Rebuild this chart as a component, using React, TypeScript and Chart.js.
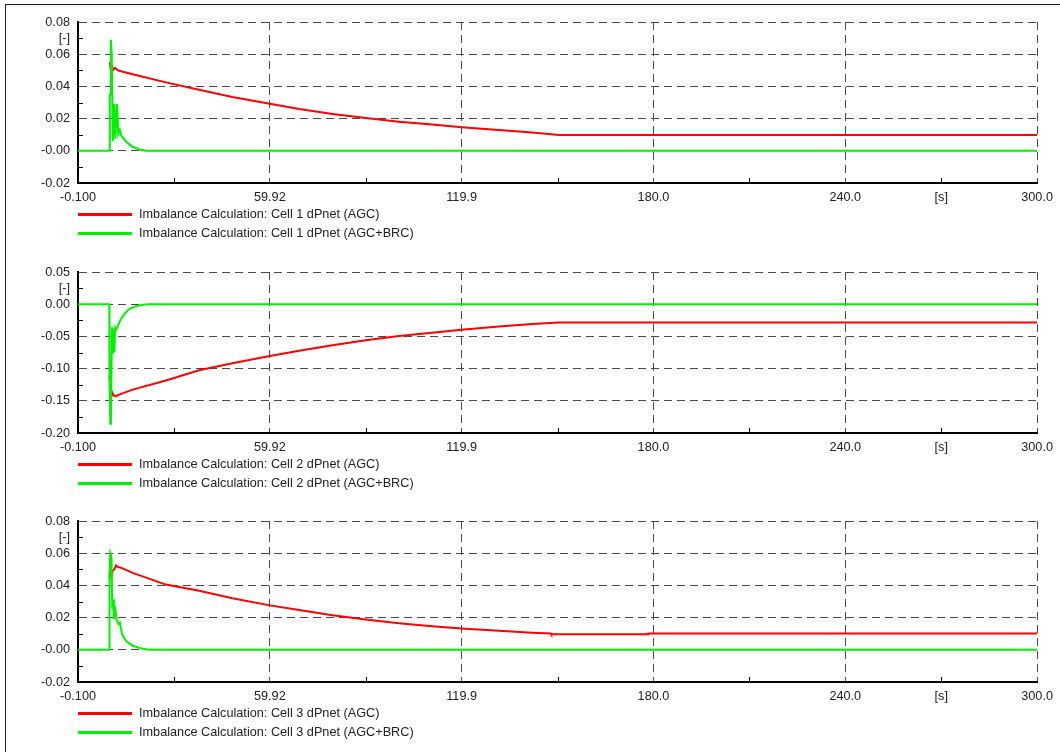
import React, { useEffect, useRef } from "react";
import { Chart, registerables } from "chart.js";
Chart.register(...registerables);

// ---------- axis ticks ----------
const xTicks = [-0.1, 29.91, 59.92, 89.93, 119.94, 149.95, 179.96, 209.97, 239.98, 269.99, 300];
const xLabels = ["-0.100", "", "59.92", "", "119.9", "", "180.0", "", "240.0", "[s]", "300.0"];
const tickMajor = [1, 0, 1, 0, 1, 0, 1, 0, 1, 0, 1];

const yTicks1 = [-0.02, -0.01, 0, 0.01, 0.02, 0.03, 0.04, 0.05, 0.06, 0.07, 0.08];
const yLabels1 = ["-0.02", "", "-0.00", "", "0.02", "", "0.04", "", "0.06", "[-]", "0.08"];
const yTicks2 = [-0.2, -0.175, -0.15, -0.125, -0.1, -0.075, -0.05, -0.025, 0, 0.025, 0.05];
const yLabels2 = ["-0.20", "", "-0.15", "", "-0.10", "", "-0.05", "", "0.00", "[-]", "0.05"];
const yTicks3 = [-0.02, -0.01, 0, 0.01, 0.02, 0.03, 0.04, 0.05, 0.06, 0.07, 0.08];
const yLabels3 = ["-0.02", "", "-0.00", "", "0.02", "", "0.04", "", "0.06", "[-]", "0.08"];

// ---------- Cell 1 (AGC series is hidden under the green one before the event) ----------
const tAgc1 = [9.85, 10.2, 10.35, 10.6, 11.0, 11.5, 12.0, 12.8, 17.0, 27.4, 37.8, 48.2, 59.9, 69.1, 79.5, 89.9, 100.3, 110.7, 119.9, 131.6, 142.0, 150.4, 300];
const agc1 = [0.055, 0.049, 0.045, 0.052, 0.0505, 0.0515, 0.0505, 0.0497, 0.0475, 0.0425, 0.0379, 0.0334, 0.0292, 0.0259, 0.0229, 0.0203, 0.0181, 0.0163, 0.0146, 0.0129, 0.0113, 0.0098, 0.0098];
const tBrc1 = [-0.1, 9.8, 9.85, 10.1, 10.2, 10.45, 10.8, 11.3, 11.6, 12.1, 12.5, 13.0, 13.4, 14.9, 17.0, 19.1, 21.2, 300];
const brc1 = [0, 0, 0.035, 0.035, 0.069, 0.06, 0.006, 0.029, 0.0073, 0.029, 0.0104, 0.013, 0.0094, 0.0058, 0.0025, 0.0008, 0, 0];

// ---------- Cell 2 ----------
const tAgc2 = [9.75, 10.3, 10.6, 11.0, 11.6, 12.8, 17.0, 27.4, 37.8, 48.2, 59.9, 69.1, 79.5, 89.9, 100.3, 110.7, 119.9, 131.6, 142.0, 150.4, 300];
const agc2 = [-0.111, -0.144, -0.137, -0.141, -0.143, -0.1403, -0.1327, -0.1184, -0.1025, -0.0918, -0.0806, -0.0724, -0.0638, -0.0561, -0.0495, -0.0444, -0.0398, -0.0347, -0.0306, -0.0283, -0.0283];
const tBrc2 = [-0.1, 9.7, 9.75, 10.0, 10.2, 10.52, 10.83, 11.04, 11.25, 11.56, 11.98, 12.6, 13.33, 14.37, 15.9, 18.0, 20.1, 22.2, 300];
const brc2 = [0, 0, -0.111, -0.1856, -0.18, -0.036, -0.077, -0.0387, -0.0747, -0.036, -0.0387, -0.031, -0.0232, -0.0155, -0.0077, -0.0031, -0.001, 0, 0];

// ---------- Cell 3 ----------
const tAgc3 = [9.75, 10.1, 10.4, 10.7, 11.25, 11.8, 12.3, 13.3, 17.0, 27.4, 37.8, 48.2, 59.9, 69.1, 79.5, 89.9, 100.3, 110.7, 119.9, 131.6, 142.0, 147.9, 148.0, 178.3, 178.4, 300];
const agc3 = [0.045, 0.053, 0.0447, 0.0489, 0.0499, 0.0524, 0.0515, 0.051, 0.0478, 0.0405, 0.0367, 0.032, 0.0276, 0.0247, 0.0214, 0.0188, 0.0165, 0.0146, 0.0132, 0.0118, 0.0106, 0.0101, 0.0097, 0.0097, 0.0101, 0.0101];
const tBrc3 = [-0.1, 9.7, 9.75, 10.0, 10.2, 10.41, 10.62, 10.93, 11.14, 11.46, 11.97, 12.6, 13.02, 13.65, 14.9, 17.0, 19.06, 21.15, 22.5, 300];
const brc3 = [0, 0, 0.0458, 0.0602, 0.0592, 0.056, 0.0252, 0.0313, 0.019, 0.0272, 0.019, 0.0159, 0.0169, 0.0097, 0.0056, 0.0025, 0.0012, 0.0004, 0, 0];

const legend1 = ["Imbalance Calculation: Cell 1 dPnet (AGC)", "Imbalance Calculation: Cell 1 dPnet (AGC+BRC)"];
const legend2 = ["Imbalance Calculation: Cell 2 dPnet (AGC)", "Imbalance Calculation: Cell 2 dPnet (AGC+BRC)"];
const legend3 = ["Imbalance Calculation: Cell 3 dPnet (AGC)", "Imbalance Calculation: Cell 3 dPnet (AGC+BRC)"];

const RED = "#ff0000";
const GREEN = "#00f000";
const FONT = "'Liberation Sans', Arial, sans-serif";
const FSIZE = 12.7;
const TEXT = "#222222";
const GRID = "#4a4a4a";

const W = 1060;
const H = 250;

const minorTicksPlugin = {
  id: "minorTicks",
  beforeDatasetsDraw(chart: any) {
    const { ctx, chartArea, scales } = chart;
    ctx.save();
    ctx.strokeStyle = "#000";
    ctx.lineWidth = 1;
    const xs = scales.x;
    xs.ticks.forEach((tk: any, i: number) => {
      if (!tickMajor[i]) {
        const px = Math.round(xs.getPixelForValue(tk.value)) + 0.5;
        ctx.beginPath();
        ctx.moveTo(px, chartArea.bottom);
        ctx.lineTo(px, chartArea.bottom - 5);
        ctx.stroke();
      }
    });
    const ys = scales.y;
    ys.ticks.forEach((tk: any, i: number) => {
      if (!tickMajor[i]) {
        const py = Math.round(ys.getPixelForValue(tk.value)) + 0.5;
        ctx.beginPath();
        ctx.moveTo(chartArea.left, py);
        ctx.lineTo(chartArea.left + 5, py);
        ctx.stroke();
      }
    });
    ctx.restore();
  },
};

function toPts(t: number[], v: number[]) {
  return t.map((x, i) => ({ x, y: v[i] }));
}

type PlotProps = {
  top: number;
  tA: number[];
  vA: number[];
  tB: number[];
  vB: number[];
  yTicks: number[];
  yLabels: string[];
  legend: string[];
};

function Plot({ top, tA, vA, tB, vB, yTicks, yLabels, legend }: PlotProps) {
  const ref = useRef<HTMLCanvasElement | null>(null);
  useEffect(() => {
    if (!ref.current) return;
    const gridColor = (c: any) =>
      c.index > 0 && tickMajor[c.index] ? GRID : "rgba(0,0,0,0)";
    const chart = new Chart(ref.current, {
      type: "line",
      data: {
        datasets: [
          {
            label: legend[0],
            data: toPts(tA, vA),
            borderColor: RED,
            backgroundColor: RED,
            borderWidth: 2,
            pointRadius: 0,
            tension: 0,
            order: 2,
          },
          {
            label: legend[1],
            data: toPts(tB, vB),
            borderColor: GREEN,
            backgroundColor: GREEN,
            borderWidth: 2,
            pointRadius: 0,
            tension: 0,
            order: 1,
          },
        ],
      },
      options: {
        responsive: false,
        animation: false,
        events: [],
        layout: { padding: { left: 0, right: W - 1039, top: 22, bottom: 0 } },
        plugins: {
          legend: { display: false },
          tooltip: { enabled: false },
        },
        scales: {
          x: {
            type: "linear",
            min: xTicks[0],
            max: xTicks[xTicks.length - 1],
            afterBuildTicks: (s: any) => {
              s.ticks = xTicks.map((v) => ({ value: v }));
            },
            afterFit: (s: any) => {
              s.height = H - 183;
            },
            ticks: {
              autoSkip: false,
              maxRotation: 0,
              padding: 7,
              color: TEXT,
              font: { family: FONT, size: FSIZE },
              callback: (_v: any, i: number) => xLabels[i],
            },
            grid: { color: gridColor, lineWidth: 1, drawTicks: false },
            border: { display: true, color: "#000", width: 2, dash: [8, 5] },
          },
          y: {
            type: "linear",
            min: yTicks[0],
            max: yTicks[yTicks.length - 1],
            afterBuildTicks: (s: any) => {
              s.ticks = yTicks.map((v) => ({ value: v }));
            },
            afterFit: (s: any) => {
              s.width = 78;
            },
            ticks: {
              autoSkip: false,
              padding: 8,
              color: TEXT,
              font: { family: FONT, size: FSIZE },
              callback: (_v: any, i: number) => yLabels[i],
            },
            grid: { color: gridColor, lineWidth: 1, drawTicks: false },
            border: { display: true, color: "#000", width: 2, dash: [8, 5] },
          },
        },
      } as any,
      plugins: [minorTicksPlugin],
    });
    return () => chart.destroy();
  }, []);

  const legendRow = (text: string, color: string, y: number) => (
    <div key={text} style={{ position: "absolute", left: 0, top: y - 8, height: 16, width: W }}>
      <div
        style={{
          position: "absolute",
          left: 78,
          top: 6.5,
          width: 54,
          height: 3,
          background: color,
        }}
      />
      <span
        style={{
          position: "absolute",
          left: 139,
          top: 0,
          lineHeight: "16px",
          fontSize: FSIZE,
          fontFamily: FONT,
          color: TEXT,
          whiteSpace: "nowrap",
        }}
      >
        {text}
      </span>
    </div>
  );

  return (
    <div style={{ position: "absolute", left: 0, top, width: W, height: H }}>
      <canvas ref={ref} width={W} height={H} style={{ width: W, height: H, display: "block" }} />
      {legendRow(legend[0], RED, 214)}
      {legendRow(legend[1], GREEN, 233)}
    </div>
  );
}

export default function App() {
  return (
    <div
      style={{
        position: "fixed",
        left: 0,
        top: 0,
        width: W,
        height: 752,
        overflow: "hidden",
        background: "#fff",
      }}
    >
      <div
        style={{
          position: "absolute",
          left: 5,
          top: 4,
          width: 1200,
          height: 900,
          border: "1px solid #222",
        }}
      />
      <Plot top={0} tA={tAgc1} vA={agc1} tB={tBrc1} vB={brc1} yTicks={yTicks1} yLabels={yLabels1} legend={legend1} />
      <Plot top={250} tA={tAgc2} vA={agc2} tB={tBrc2} vB={brc2} yTicks={yTicks2} yLabels={yLabels2} legend={legend2} />
      <Plot top={499} tA={tAgc3} vA={agc3} tB={tBrc3} vB={brc3} yTicks={yTicks3} yLabels={yLabels3} legend={legend3} />
    </div>
  );
}
